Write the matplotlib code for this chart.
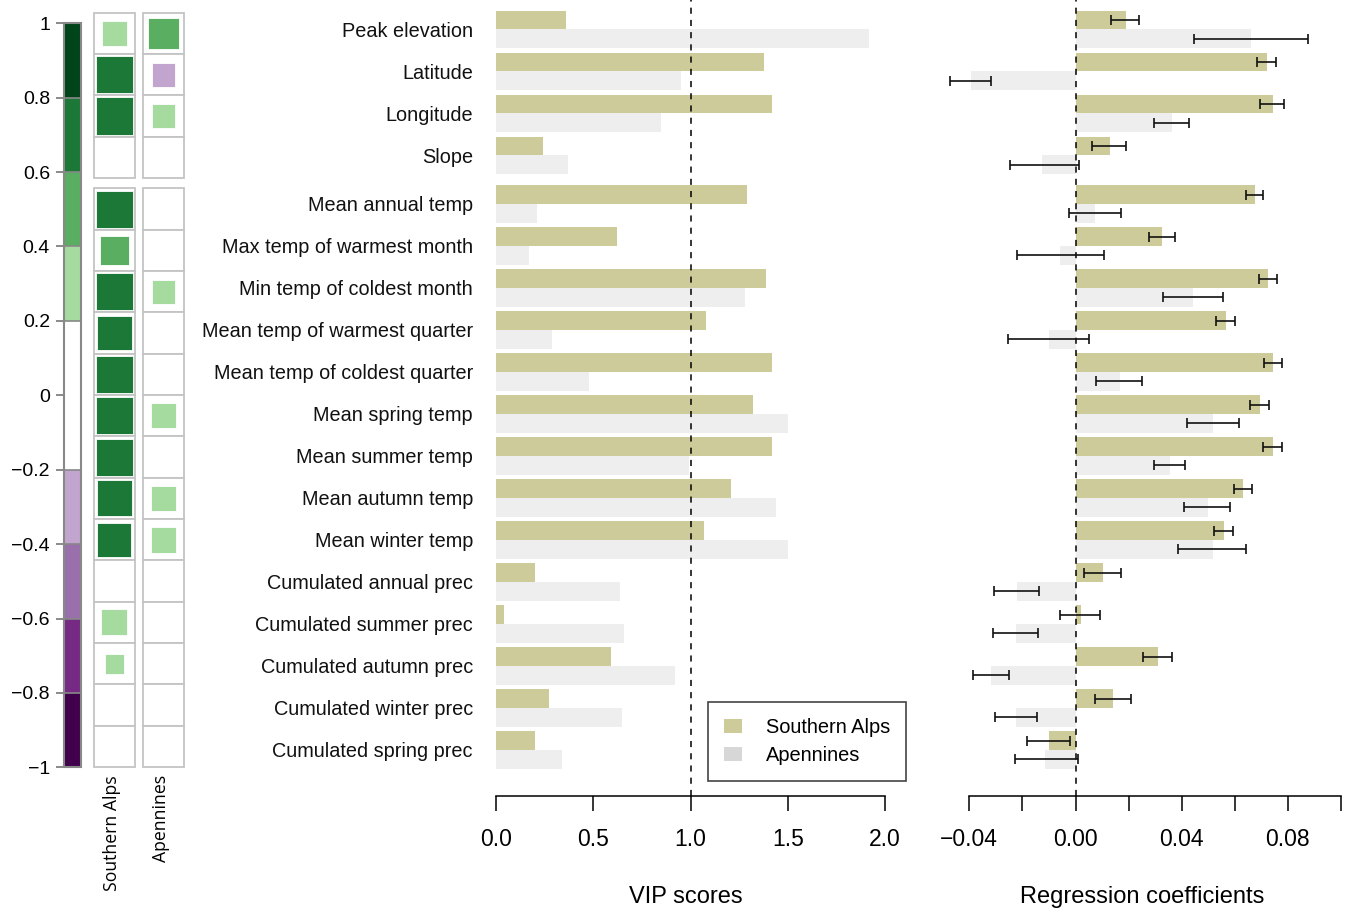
import numpy as np
import matplotlib
matplotlib.use("Agg")
import matplotlib.pyplot as plt
from matplotlib.colors import ListedColormap, BoundaryNorm
from matplotlib.patches import Rectangle, Patch
from matplotlib.cm import ScalarMappable
from matplotlib.ticker import FuncFormatter

plt.rcParams['font.family'] = ['Liberation Sans', 'DejaVu Sans']

# ---------------------------------------------------------------- data
categories = [
    "Peak elevation", "Latitude", "Longitude", "Slope",
    "Mean annual temp", "Max temp of warmest month", "Min temp of coldest month",
    "Mean temp of warmest quarter", "Mean temp of coldest quarter",
    "Mean spring temp", "Mean summer temp", "Mean autumn temp", "Mean winter temp",
    "Cumulated annual prec", "Cumulated summer prec", "Cumulated autumn prec",
    "Cumulated winter prec", "Cumulated spring prec",
]
regions = ["Southern Alps", "Apennines"]

# correlation of each predictor with the response (shown as squares)
corr_alps = [0.33, 0.74, 0.77, 0.10, 0.74, 0.45, 0.74, 0.64, 0.74,
             0.74, 0.74, 0.69, 0.62, 0.12, 0.36, 0.21, 0.08, -0.03]
corr_apen = [0.51, -0.31, 0.29, 0.10, 0.06, -0.12, 0.31, 0.04, 0.15,
             0.34, 0.18, 0.32, 0.36, -0.09, -0.14, -0.17, -0.05, 0.02]

# variable importance in projection
vip_alps = [0.36, 1.38, 1.42, 0.24, 1.29, 0.62, 1.39, 1.08, 1.42,
            1.32, 1.42, 1.21, 1.07, 0.20, 0.04, 0.59, 0.27, 0.20]
vip_apen = [1.92, 0.95, 0.85, 0.37, 0.21, 0.17, 1.28, 0.29, 0.48,
            1.50, 0.99, 1.44, 1.50, 0.64, 0.66, 0.92, 0.65, 0.34]

# PLS regression coefficients with confidence limits
coef_alps = [0.0190, 0.0722, 0.0745, 0.0130, 0.0677, 0.0326, 0.0726, 0.0567, 0.0745,
             0.0696, 0.0745, 0.0631, 0.0560, 0.0103, 0.0020, 0.0311, 0.0141, -0.0101]
coef_alps_lo = [0.0133, 0.0683, 0.0694, 0.0062, 0.0642, 0.0278, 0.0691, 0.0530, 0.0709,
                0.0659, 0.0708, 0.0596, 0.0523, 0.0033, -0.0057, 0.0255, 0.0074, -0.0181]
coef_alps_hi = [0.0240, 0.0756, 0.0787, 0.0190, 0.0707, 0.0374, 0.0758, 0.0600, 0.0776,
                0.0727, 0.0776, 0.0664, 0.0594, 0.0172, 0.0094, 0.0364, 0.0208, -0.0021]
coef_apen = [0.0662, -0.0395, 0.0364, -0.0127, 0.0073, -0.0059, 0.0443, -0.0101, 0.0167,
             0.0518, 0.0356, 0.0499, 0.0518, -0.0221, -0.0225, -0.0319, -0.0225, -0.0116]
coef_apen_lo = [0.0447, -0.0474, 0.0296, -0.0248, -0.0026, -0.0219, 0.0330, -0.0253, 0.0079,
                0.0420, 0.0296, 0.0410, 0.0387, -0.0306, -0.0312, -0.0385, -0.0303, -0.0228]
coef_apen_hi = [0.0875, -0.0317, 0.0428, 0.0014, 0.0171, 0.0106, 0.0556, 0.0052, 0.0252,
                0.0614, 0.0414, 0.0582, 0.0644, -0.0136, -0.0140, -0.0250, -0.0145, 0.0008]

vip_ticks = [0.0, 0.5, 1.0, 1.5, 2.0]
coef_ticks = [-0.04, -0.02, 0.00, 0.02, 0.04, 0.06, 0.08, 0.10]
coef_labelled = [-0.04, 0.00, 0.04, 0.08]

# ---------------------------------------------------------------- style
col_alps = "#cccb99"
col_apen = "#eeeeee"
col_apen_key = "#d8d7d8"
grid_grey = "#c4c4c4"
corr_bounds = np.linspace(-1, 1, 11)
corr_colors = ["#40004b", "#762a83", "#9970ab", "#c2a5cf", "#ffffff",
               "#ffffff", "#a6dba0", "#5aae61", "#1b7837", "#00441b"]
corr_cmap = ListedColormap(corr_colors)
corr_norm = BoundaryNorm(corr_bounds, corr_cmap.N)

W, H = 1346, 909
fig = plt.figure(figsize=(W / 100, H / 100), dpi=100)


def px_axes(left, top, right, bottom):
    return fig.add_axes([left / W, 1 - bottom / H, (right - left) / W, (bottom - top) / H])


n = len(categories)
idx = np.arange(n)
row_y = idx + 0.155 * (idx >= 4)
bar_h = 0.45
ylim = (796 / 42 - 0.702, -0.702)

# ---------------------------------------------------------------- VIP panel
ax1 = px_axes(496, 0, 885, 796)
ax1.barh(row_y + bar_h / 2, vip_apen, height=bar_h, color=col_apen, zorder=1)
ax1.barh(row_y - bar_h / 2, vip_alps, height=bar_h, color=col_alps, zorder=2)
ax1.axvline(1.0, color="black", lw=1.1, dashes=(4, 4), zorder=3)
ax1.set_xlim(0, 2)
ax1.set_ylim(*ylim)
for s in ("left", "top", "right"):
    ax1.spines[s].set_visible(False)
ax1.spines["bottom"].set_bounds(0, 2)
ax1.spines["bottom"].set_linewidth(1.1)
ax1.set_xticks(vip_ticks)
ax1.set_xticklabels([f"{t:.1f}" for t in vip_ticks])
ax1.tick_params(axis="x", length=10.8, width=1.1, labelsize=16.5, pad=12.5)
ax1.set_yticks(row_y)
ax1.set_yticklabels(categories, fontsize=14.3, color="#111111")
ax1.tick_params(axis="y", length=0, pad=16.6)

handles = [Patch(facecolor=col_alps, edgecolor="none", label=regions[0]),
           Patch(facecolor=col_apen_key, edgecolor="none", label=regions[1])]
leg = ax1.legend(handles=handles, loc="upper left",
                 bbox_to_anchor=(708 / W, 1 - 702 / H), bbox_transform=fig.transFigure,
                 borderaxespad=0, fontsize=14.4, handlelength=0.9, handleheight=0.75,
                 handletextpad=1.2, borderpad=0.8, labelspacing=0.45,
                 fancybox=False, framealpha=1)
leg.get_frame().set_edgecolor("#444444")
leg.get_frame().set_linewidth(1.2)

# ---------------------------------------------------------------- coefficient panel
ax2 = px_axes(969.3, 0, 1341, 796)
ax2.barh(row_y + bar_h / 2, coef_apen, height=bar_h, color=col_apen, zorder=1)
ax2.barh(row_y - bar_h / 2, coef_alps, height=bar_h, color=col_alps, zorder=2)
ca = np.array(coef_alps)
cp = np.array(coef_apen)
for vals, lo, hi, off in ((ca, coef_alps_lo, coef_alps_hi, -bar_h / 2),
                          (cp, coef_apen_lo, coef_apen_hi, bar_h / 2)):
    eb = ax2.errorbar(vals, row_y + off,
                      xerr=[vals - np.array(lo), np.array(hi) - vals],
                      fmt="none", ecolor="#111111", elinewidth=1.2, capsize=3.4,
                      capthick=1.2, zorder=4)
    for art in eb.get_children():
        art.set_clip_on(False)
ax2.axvline(0.0, color="black", lw=1.1, dashes=(4, 4), zorder=3)
ax2.set_xlim(-0.04, 0.10)
ax2.set_ylim(*ylim)
for s in ("left", "top", "right"):
    ax2.spines[s].set_visible(False)
ax2.spines["bottom"].set_bounds(-0.04, 0.10)
ax2.spines["bottom"].set_linewidth(1.1)
ax2.set_xticks(coef_ticks)


def coef_fmt(v, pos):
    if any(abs(v - t) < 1e-9 for t in coef_labelled):
        return f"{v:.2f}".replace("-", "\u2212")
    return ""


ax2.xaxis.set_major_formatter(FuncFormatter(coef_fmt))
ax2.tick_params(axis="x", length=10.8, width=1.1, labelsize=16.5, pad=12.5)
ax2.set_yticks([])

fig.text(686 / W, 1 - 897 / H, "VIP scores", ha="center", va="center", fontsize=17)
fig.text(1142 / W, 1 - 897 / H, "Regression coefficients", ha="center", va="center", fontsize=17)

# ---------------------------------------------------------------- correlation squares
hx = px_axes(93.7, 12.7, 184.1, 767)
hx.set_xlim(0, 2.19)
hx.set_ylim(18.25, 0)
hx.axis("off")
for j, vals in enumerate([corr_alps, corr_apen]):
    x0 = j * 1.19
    for i, r in enumerate(vals):
        top = i + 0.25 * (i >= 4)
        hx.add_patch(Rectangle((x0, top), 1, 1, facecolor="white", edgecolor=grid_grey,
                               lw=1.3, clip_on=False, zorder=1))
        side = min(1.04 * np.sqrt(abs(r)), 0.94)
        hx.add_patch(Rectangle((x0 + 0.5 - side / 2, top + 0.5 - side / 2), side, side,
                               facecolor=corr_cmap(corr_norm(r)), edgecolor="white",
                               lw=0.6, clip_on=False, zorder=2))

for xc, name in zip([112.5, 161.0], regions):
    fig.text(xc / W, 1 - 775 / H, name, rotation=90, ha="center", va="top",
             fontsize=12.7, family=["Open Sans", "DejaVu Sans"])

# ---------------------------------------------------------------- colour key
cax = px_axes(64.3, 23.3, 81, 767.3)
cb = fig.colorbar(ScalarMappable(norm=corr_norm, cmap=corr_cmap), cax=cax,
                  orientation="vertical")
cb.outline.set_edgecolor("#888888")
cb.outline.set_linewidth(1.5)
for b in corr_bounds[1:-1]:
    if abs(b) > 1e-9:
        cax.axhline(b, color="#888888", lw=1.2)
cax.yaxis.set_ticks_position("left")
cb.set_ticks(corr_bounds)
cb.set_ticklabels([f"{v:g}".replace("-", "\u2212") if abs(v) > 1e-9 else "0"
                   for v in corr_bounds])
cax.tick_params(axis="y", length=5.8, width=1.2, color="#777777", labelsize=14, pad=4.5)

fig.savefig("out.png", dpi=100)
